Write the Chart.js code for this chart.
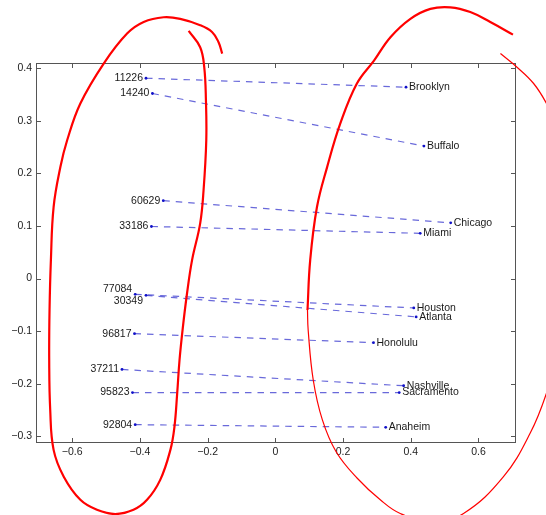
<!DOCTYPE html>
<html>
<head>
<meta charset="utf-8">
<script src="https://cdn.jsdelivr.net/npm/chart.js@4.4.1/dist/chart.umd.min.js"></script>
<style>
  html, body { margin: 0; padding: 0; background: #ffffff; }
  canvas { display: block; }
</style>
</head>
<body>
<canvas id="chart" width="546" height="515"></canvas>
<script>
// ZIP codes (left end of each link) and their projected coordinates
const zipCodes = ['11226', '14240', '60629', '33186', '77084', '30349', '96817', '37211', '95823', '92804'];
const zipX = [-0.382, -0.363, -0.331, -0.366, -0.414, -0.382, -0.416, -0.453, -0.422, -0.414];
const zipY = [0.381, 0.352, 0.148, 0.099, -0.030, -0.032, -0.105, -0.173, -0.217, -0.278];

// City names (right end of each link) and their projected coordinates
const cityNames = ['Brooklyn', 'Buffalo', 'Chicago', 'Miami', 'Houston', 'Atlanta', 'Honolulu', 'Nashville', 'Sacramento', 'Anaheim'];
const cityX = [0.386, 0.439, 0.518, 0.428, 0.409, 0.416, 0.290, 0.379, 0.366, 0.326];
const cityY = [0.364, 0.252, 0.106, 0.086, -0.056, -0.073, -0.122, -0.204, -0.217, -0.283];

// Axis ticks
const xTickValues = [-0.6, -0.4, -0.2, 0, 0.2, 0.4, 0.6];
const yTickValues = [-0.3, -0.2, -0.1, 0, 0.1, 0.2, 0.3, 0.4];

// Freehand red loops drawn over the plot (in data units)
const leftLoopX = [-0.256, -0.222, -0.210, -0.205, -0.204, -0.212, -0.222, -0.246, -0.261, -0.273, -0.283, -0.290, -0.298, -0.310, -0.340, -0.379, -0.419, -0.473, -0.527, -0.576, -0.625, -0.655, -0.665, -0.668, -0.667, -0.663, -0.655, -0.635, -0.615, -0.576, -0.507, -0.438, -0.389, -0.330, -0.281, -0.222, -0.187, -0.168, -0.157];
const leftLoopY = [0.471, 0.440, 0.402, 0.339, 0.263, 0.168, 0.105, 0.035, -0.029, -0.092, -0.155, -0.219, -0.282, -0.326, -0.383, -0.421, -0.440, -0.448, -0.440, -0.421, -0.377, -0.326, -0.250, -0.155, -0.060, 0.035, 0.136, 0.212, 0.263, 0.333, 0.409, 0.466, 0.488, 0.497, 0.494, 0.482, 0.469, 0.450, 0.428];

const rightArcX = [0.095, 0.103, 0.123, 0.153, 0.192, 0.241, 0.292, 0.340, 0.399, 0.458, 0.517, 0.576, 0.635, 0.702];
const rightArcY = [-0.060, 0.035, 0.136, 0.212, 0.295, 0.371, 0.415, 0.459, 0.494, 0.513, 0.516, 0.507, 0.488, 0.464];

// these two strokes run from the right edge back towards the plot
const rightLowerX = [0.830, 0.801, 0.753, 0.674, 0.556, 0.464, 0.369, 0.310, 0.242, 0.180, 0.139, 0.112, 0.097, 0.095];
const rightLowerY = [-0.146, -0.218, -0.294, -0.377, -0.447, -0.463, -0.447, -0.421, -0.380, -0.330, -0.269, -0.193, -0.098, -0.060];

const rightUpperX = [0.830, 0.801, 0.763, 0.714, 0.665];
const rightUpperY = [0.291, 0.333, 0.371, 0.402, 0.428];

const FONT = '"Liberation Sans", Arial, Helvetica, sans-serif';
const toPoints = (xs, ys) => xs.map((v, i) => ({ x: v, y: ys[i] }));
const fmtTick = v => (v < 0 ? '\u2212' : '') + String(Math.abs(Math.round(v * 10) / 10));

// vertical nudges (px) for the two overlapping ZIP labels
const labelNudge = { '77084': -5.5, '30349': 6 };

const linkDatasets = zipCodes.map((z, i) => ({
  label: z + ' - ' + cityNames[i],
  data: [{ x: zipX[i], y: zipY[i] }, { x: cityX[i], y: cityY[i] }],
  showLine: true,
  borderColor: 'rgba(55,55,205,0.75)',
  borderWidth: 1.2,
  borderDash: [6.5, 6],
  pointRadius: 1.4,
  pointBackgroundColor: '#1010c8',
  pointBorderWidth: 0,
  order: 1
}));

const loop = (xs, ys, width) => ({
  label: 'loop',
  data: toPoints(xs, ys),
  showLine: true,
  borderColor: '#ff0000',
  borderWidth: width,
  tension: 0.4,
  pointRadius: 0,
  clip: false,
  order: 0
});

const framePlugin = {
  id: 'frameAndLabels',
  beforeDatasetsDraw(chart) {
    const { ctx, chartArea: a, scales: { x, y } } = chart;
    ctx.save();
    // axes box with inward ticks
    const L = Math.round(a.left) + 0.5, R = Math.round(a.right) + 0.5;
    const T = Math.round(a.top) + 0.5, B = Math.round(a.bottom) + 0.5;
    ctx.strokeStyle = '#555555';
    ctx.lineWidth = 1;
    ctx.strokeRect(L, T, R - L, B - T);
    ctx.beginPath();
    const tk = 4.5;
    xTickValues.forEach(v => {
      const px = Math.round(x.getPixelForValue(v)) + 0.5;
      ctx.moveTo(px, B); ctx.lineTo(px, B - tk);
      ctx.moveTo(px, T); ctx.lineTo(px, T + tk);
    });
    yTickValues.forEach(v => {
      const py = Math.round(y.getPixelForValue(v)) + 0.5;
      ctx.moveTo(L, py); ctx.lineTo(L + tk, py);
      ctx.moveTo(R, py); ctx.lineTo(R - tk, py);
    });
    ctx.stroke();

    // point labels
    ctx.font = '10.5px ' + FONT;
    ctx.fillStyle = '#1a1a1a';
    ctx.textBaseline = 'middle';
    zipCodes.forEach((z, i) => {
      const px = x.getPixelForValue(zipX[i]);
      const py = y.getPixelForValue(zipY[i]) + (labelNudge[z] || 0);
      ctx.textAlign = 'right';
      ctx.fillText(z, px - 3, py);
    });
    cityNames.forEach((c, i) => {
      const px = x.getPixelForValue(cityX[i]);
      const py = y.getPixelForValue(cityY[i]);
      ctx.textAlign = 'left';
      ctx.fillText(c, px + 3, py);
    });
    ctx.restore();
  }
};

new Chart(document.getElementById('chart'), {
  type: 'scatter',
  data: {
    datasets: [
      loop(leftLoopX, leftLoopY, 2.2),
      loop(rightArcX, rightArcY, 2.2),
      loop(rightLowerX, rightLowerY, 1.2),
      loop(rightUpperX, rightUpperY, 1.2),
      ...linkDatasets
    ]
  },
  options: {
    responsive: false,
    animation: false,
    layout: { padding: { left: 0, right: 31, top: 63, bottom: 53 } },
    elements: { line: { capBezierPoints: false } },
    plugins: { legend: { display: false }, tooltip: { enabled: false } },
    scales: {
      x: {
        type: 'linear',
        min: -0.707,
        max: 0.708,
        grid: { display: false, drawTicks: false },
        border: { display: false },
        afterBuildTicks: s => { s.ticks = xTickValues.map(v => ({ value: v })); },
        afterFit: s => { s.height = 20; },
        ticks: { padding: 4, color: '#222222', font: { family: FONT, size: 10.5 }, callback: fmtTick, maxRotation: 0, autoSkip: false }
      },
      y: {
        type: 'linear',
        min: -0.311,
        max: 0.41,
        grid: { display: false, drawTicks: false },
        border: { display: false },
        afterBuildTicks: s => { s.ticks = yTickValues.map(v => ({ value: v })); },
        afterFit: s => { s.width = 36; },
        ticks: { padding: 4, color: '#222222', font: { family: FONT, size: 10.5 }, callback: fmtTick, autoSkip: false }
      }
    }
  },
  plugins: [framePlugin]
});
</script>
</body>
</html>
